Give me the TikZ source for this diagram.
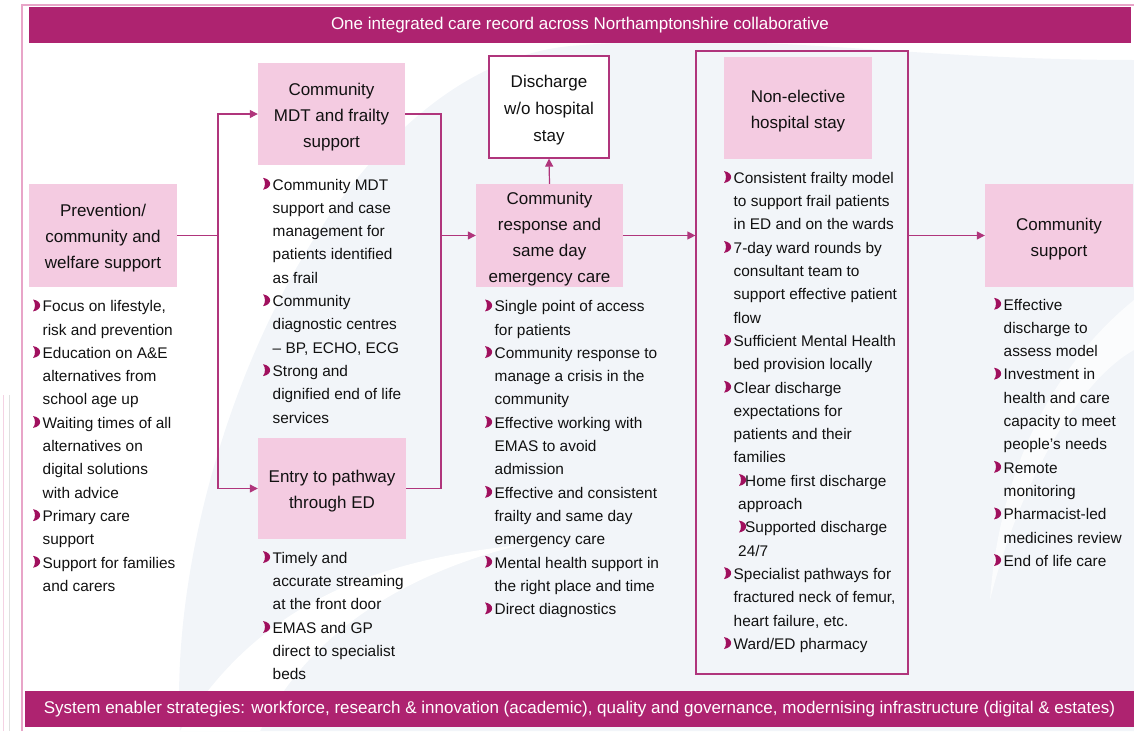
\documentclass[tikz,border=0pt]{standalone}
\usepackage{fontspec}
\setmainfont{Liberation Sans}
\usetikzlibrary{arrows.meta}
\definecolor{barc}{HTML}{AE2370}
\definecolor{boxfill}{HTML}{F4CBE1}
\definecolor{lnc}{HTML}{B0357C}
\definecolor{bulc}{HTML}{A0105E}
\definecolor{bgc}{HTML}{F2F5F9}
\definecolor{framec}{HTML}{E8A5C8}
\definecolor{txt}{HTML}{111111}
\newcommand\Bu{\hspace*{9.5pt}}
\newcommand\Ct{\hspace*{9.5pt}}
\newcommand\bul[2]{\fill[bulc, shift={(#1,#2)}] (0,-0.3) .. controls (9.5,-1.8) and (9.5,-10.7) .. (0,-12.2) .. controls (2.6,-9) and (2.6,-3.5) .. (0,-0.3) -- cycle;}
\begin{document}
\begin{tikzpicture}[x=1pt,y=-1pt,
  box/.style={fill=boxfill, draw=none, inner sep=0pt},
  ttl/.style={align=center, inner sep=0pt, text=txt, font=\fontsize{17}{26}\selectfont},
  listnode/.style={anchor=base west, inner sep=0pt, text=txt,
    font=\fontsize{15.4}{23.3}\selectfont},
  bartext/.style={fill=barc, text=white, inner sep=0pt,
    font=\fontsize{17}{20}\selectfont},
  lnk/.style={draw=lnc, line width=1.2pt},
  arr/.style={draw=lnc, line width=1.2pt, -{Triangle[length=8pt,width=8pt]}}]
\useasboundingbox (0,0) rectangle (1134,731);
% background watermark
\fill[bgc] (180,731) .. controls (165,470) and (330,70) .. (570,46)
  .. controls (760,30) and (900,60) .. (1134,60) -- (1134,731) -- cycle;
\fill[white] (180,731) .. controls (260,600) and (380,560) .. (520,545)
  .. controls (380,580) and (300,650) .. (260,731) -- cycle;
\fill[white, opacity=0.7] (1134,300) .. controls (1060,360) and (1000,460) .. (990,600)
  .. controls (1020,480) and (1080,380) .. (1134,350) -- cycle;
% outer frame
\draw[framec, line width=1.2pt] (22,731) -- (22,5) -- (1134,5);
\draw[framec!50, line width=0.8pt] (3,395) -- (3,731);
\draw[black!12, line width=0.6pt] (9,395) -- (9,731);
% bars
\node[bartext, minimum width=1102pt, minimum height=36pt] (top) at (580,25)
  {One integrated care record across Northamptonshire collaborative};
\node[bartext, minimum width=1109pt, minimum height=36pt] (bottom) at (579.5,709)
  {System enabler strategies: workforce, research \& innovation (academic), quality and governance, modernising infrastructure (digital \& estates)};
% non-elective frame
\node[draw=lnc, line width=1.2pt, minimum width=212pt, minimum height=623pt, inner sep=0pt] (neframe) at (802,362.5) {};
% boxes
\node[box, minimum width=148pt, minimum height=103pt] (prev) at (103,235.5) {};
\node[box, minimum width=147pt, minimum height=102pt] (mdt) at (331.5,114) {};
\node[box, minimum width=148pt, minimum height=101pt] (entry) at (332,488.5) {};
\node[box, fill=white, draw=lnc, line width=1.2pt, minimum width=120pt, minimum height=102pt] (dis) at (549,107) {};
\node[box, minimum width=147pt, minimum height=103pt] (cr) at (549.5,235.5) {};
\node[box, minimum width=148pt, minimum height=102pt] (ne) at (798,108) {};
\node[box, minimum width=148pt, minimum height=103pt] (cs) at (1059,235.5) {};
% box titles
\node[ttl] (prevt) at ([yshift=-3pt]prev.center) {Prevention/\\community and\\welfare support};
\node[ttl] (mdtt) at ([yshift=-3.5pt]mdt.center) {Community\\MDT and frailty\\support};
\node[ttl] (entryt) at ([yshift=-3pt]entry.center) {Entry to pathway\\through ED};
\node[ttl, font=\fontsize{17}{27}\selectfont] (dist) at ([yshift=-3.5pt]dis.center) {Discharge\\w/o hospital\\stay};
\node[ttl] (crt) at ([yshift=-3.5pt]cr.center) {Community\\response and\\same day\\emergency care};
\node[ttl] (net) at ([yshift=-3.5pt]ne.center) {Non-elective\\hospital stay};
\node[ttl] (cst) at ([yshift=-3.5pt]cs.center) {Community\\support};
% connectors
\coordinate (j1) at (218,236);
\coordinate (j2) at (441,237);
\draw[lnk] (prev.east) -- (prev.east -| j1);
\draw[arr] (prev.east -| j1) |- (mdt.west);
\draw[arr] (prev.east -| j1) |- (entry.west);
\draw[lnk] (mdt.east) -| (entry.east -| j2) -- (entry.east);
\draw[arr] (cr.west -| j2) -- (cr.west);
\draw[arr] (cr.north) -- (dis.south);
\draw[arr] (cr.east) -- (cr.east -| neframe.west);
\draw[arr] (cs.west -| neframe.east) -- (cs.west);
% bullets
\foreach \i in {0,2,5,9,11} {\bul{33}{311.7+23.3*\i}}
\foreach \i in {0,5,8} {\bul{263}{190+23.3*\i}}
\foreach \i in {0,3} {\bul{263}{563.3+23.3*\i}}
\foreach \i in {0,2,5,8,11,13} {\bul{485}{311.7+23.3*\i}}
\foreach \i in {0,3,7,9,17,20} {\bul{724}{183.3+23.3*\i}}
\foreach \i in {13,15} {\bul{739}{183.3+23.3*\i}}
\foreach \i in {0,3,7,9,11} {\bul{994}{310+23.3*\i}}
% lists
\node[listnode] (lprev) at (33,311.7) {\begin{tabular}[t]{@{}l@{}}
\Bu Focus on lifestyle,\\ \Ct risk and prevention\\
\Bu Education on A\&E\\ \Ct alternatives from\\ \Ct school age up\\
\Bu Waiting times of all\\ \Ct alternatives on\\ \Ct digital solutions\\ \Ct with advice\\
\Bu Primary care\\ \Ct support\\
\Bu Support for families\\ \Ct and carers
\end{tabular}};
\node[listnode] (lmdt) at (263,190) {\begin{tabular}[t]{@{}l@{}}
\Bu Community MDT\\ \Ct support and case\\ \Ct management for\\ \Ct patients identified\\ \Ct as frail\\
\Bu Community\\ \Ct diagnostic centres\\ \Ct – BP, ECHO, ECG\\
\Bu Strong and\\ \Ct dignified end of life\\ \Ct services
\end{tabular}};
\node[listnode] (lentry) at (263,563.3) {\begin{tabular}[t]{@{}l@{}}
\Bu Timely and\\ \Ct accurate streaming\\ \Ct at the front door\\
\Bu EMAS and GP\\ \Ct direct to specialist\\ \Ct beds
\end{tabular}};
\node[listnode] (lcr) at (485,311.7) {\begin{tabular}[t]{@{}l@{}}
\Bu Single point of access\\ \Ct for patients\\
\Bu Community response to\\ \Ct manage a crisis in the\\ \Ct community\\
\Bu Effective working with\\ \Ct EMAS to avoid\\ \Ct admission\\
\Bu Effective and consistent\\ \Ct frailty and same day\\ \Ct emergency care\\
\Bu Mental health support in\\ \Ct the right place and time\\
\Bu Direct diagnostics
\end{tabular}};
\node[listnode] (lne) at (724,183.3) {\begin{tabular}[t]{@{}l@{}}
\Bu Consistent frailty model\\ \Ct to support frail patients\\ \Ct in ED and on the wards\\
\Bu 7-day ward rounds by\\ \Ct consultant team to\\ \Ct support effective patient\\ \Ct flow\\
\Bu Sufficient Mental Health\\ \Ct bed provision locally\\
\Bu Clear discharge\\ \Ct expectations for\\ \Ct patients and their\\ \Ct families\\
\hspace*{21pt}Home first discharge\\ \hspace*{14pt}approach\\
\hspace*{21pt}Supported discharge\\ \hspace*{14pt}24/7\\
\Bu Specialist pathways for\\ \Ct fractured neck of femur,\\ \Ct heart failure, etc.\\
\Bu Ward/ED pharmacy
\end{tabular}};
\node[listnode] (lcs) at (994,310) {\begin{tabular}[t]{@{}l@{}}
\Bu Effective\\ \Ct discharge to\\ \Ct assess model\\
\Bu Investment in\\ \Ct health and care\\ \Ct capacity to meet\\ \Ct people’s needs\\
\Bu Remote\\ \Ct monitoring\\
\Bu Pharmacist-led\\ \Ct medicines review\\
\Bu End of life care
\end{tabular}};
\end{tikzpicture}
\end{document}
